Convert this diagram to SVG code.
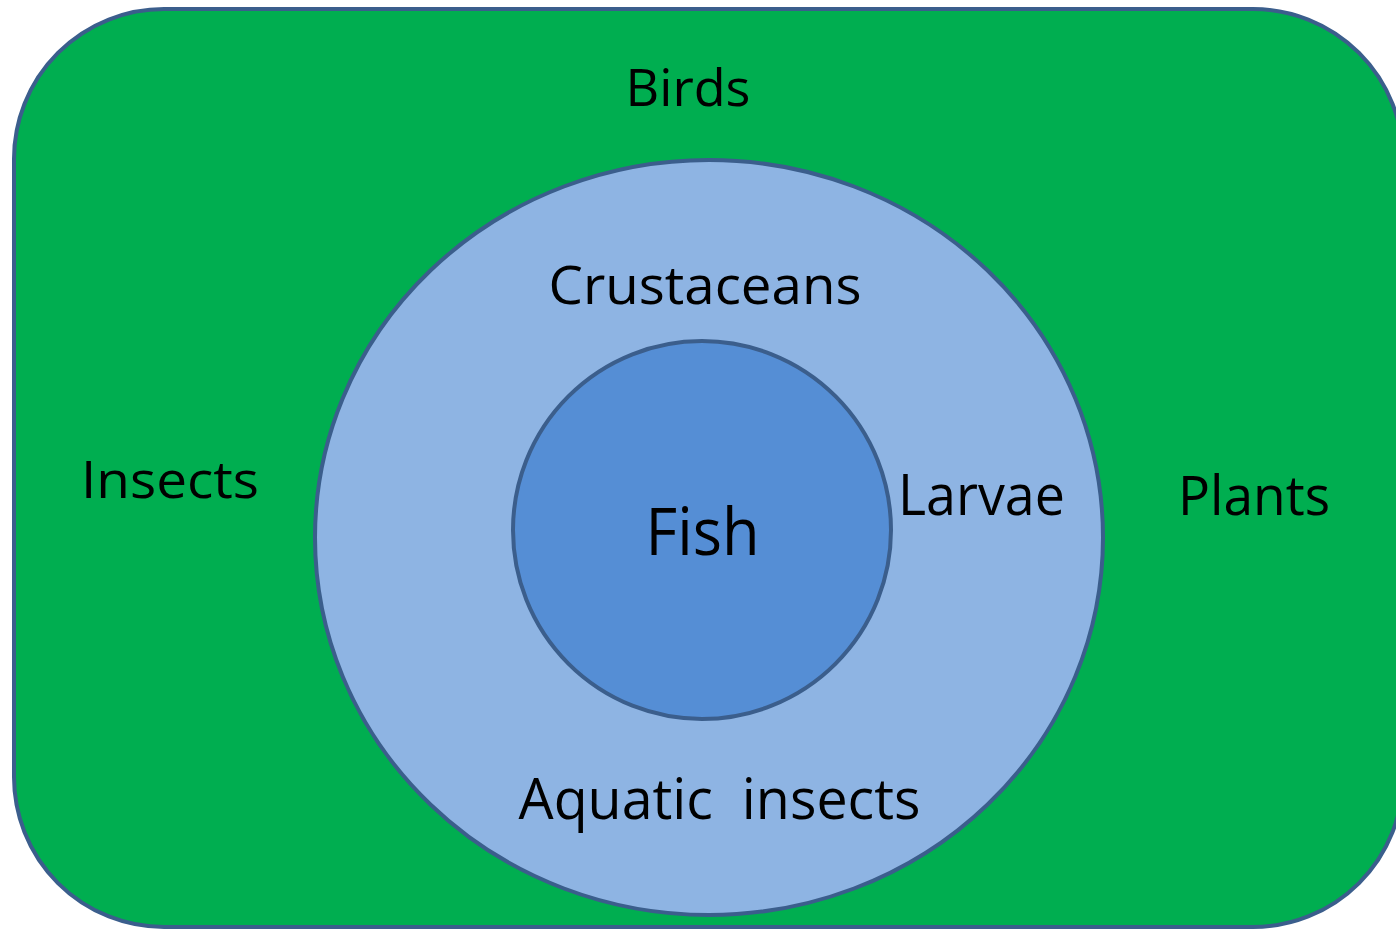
<svg xmlns="http://www.w3.org/2000/svg" width="1396" height="930" viewBox="0 0 1396 930">
<style>
.lbl{font-family:"Open Sans","Liberation Sans",sans-serif;fill:#000;text-anchor:middle;white-space:pre}
.shape{stroke:#3b5e8c;stroke-width:4}
</style>
<rect width="1396" height="930" fill="#ffffff"/>
<g id="birds">
<rect class="shape" x="14" y="9" width="1389" height="918" rx="150" ry="150" fill="#00ae50"/>
<text class="lbl" x="688" y="106" font-size="52" textLength="125" lengthAdjust="spacingAndGlyphs">Birds</text>
<text class="lbl" x="170" y="498" font-size="52" textLength="178" lengthAdjust="spacingAndGlyphs">Insects</text>
<text class="lbl" x="1254" y="515" font-size="55" textLength="152" lengthAdjust="spacingAndGlyphs">Plants</text>
</g>
<g id="crustaceans">
<ellipse class="shape" cx="709" cy="537.5" rx="394" ry="377.5" fill="#8eb4e3"/>
<text class="lbl" x="705" y="304" font-size="53" textLength="313" lengthAdjust="spacingAndGlyphs">Crustaceans</text>
<text class="lbl" x="981.5" y="515" font-size="56" textLength="167" lengthAdjust="spacingAndGlyphs">Larvae</text>
<text class="lbl" x="719.5" y="819" font-size="57" textLength="402" lengthAdjust="spacingAndGlyphs">Aquatic  insects</text>
</g>
<g id="fish">
<circle class="shape" cx="702" cy="530" r="189" fill="#558ed5"/>
<text class="lbl" x="702.5" y="555" font-size="66" textLength="114" lengthAdjust="spacingAndGlyphs">Fish</text>
</g>
<g id="connectors"></g>
</svg>
